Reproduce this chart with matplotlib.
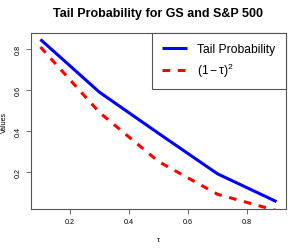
import matplotlib
matplotlib.use("Agg")
import matplotlib.pyplot as plt

tau = [0.1, 0.3, 0.5, 0.7, 0.9]
tail_prob = [0.847, 0.589, 0.388, 0.190, 0.054]
one_minus_tau_sq = [0.81, 0.49, 0.25, 0.09, 0.01]
xticks = [0.2, 0.4, 0.6, 0.8]
yticks = [0.2, 0.4, 0.6, 0.8]

plt.rcParams['font.family'] = ['Liberation Sans', 'DejaVu Sans']
plt.rcParams['mathtext.fontset'] = 'custom'
plt.rcParams['mathtext.rm'] = 'Liberation Sans'
plt.rcParams['mathtext.it'] = 'Liberation Sans'

fig = plt.figure(figsize=(3.01, 2.53), dpi=100)
ax = fig.add_axes([0.103, 0.170, 0.847, 0.696])

ax.plot(tau, tail_prob, color='#0000ff', lw=2.2, label='Tail Probability', solid_capstyle='butt')
ax.plot(tau, one_minus_tau_sq, color='#ff0000', lw=2.2, ls=(0, (2.5, 2.5)),
        label=r'$(1-\mathrm{\tau})^2$')

ax.set_xlim(0.068, 0.932)
ax.set_ylim(0.018, 0.879)
ax.set_xticks(xticks)
ax.set_xticklabels([f"{v:.1f}" for v in xticks])
ax.set_yticks(yticks)
ax.set_yticklabels([f"{v:.1f}" for v in yticks], rotation=90, va='center')
ax.tick_params(axis='both', labelsize=5.2, length=3.5, width=0.6, color='#555555', pad=3)
for s in ax.spines.values():
    s.set_color('#555555')
    s.set_linewidth(0.8)

ax.set_xlabel('τ', fontsize=5.5, labelpad=8)
ax.set_ylabel('Values', fontsize=5, labelpad=5)
fig.suptitle('Tail Probability for GS and S&P 500', fontsize=9, fontweight='bold', y=0.97, x=0.525)

leg = ax.legend(loc='upper right', bbox_to_anchor=(1.0, 1.0), borderaxespad=0,
                fontsize=8.7, fancybox=False, framealpha=1, edgecolor='#555555',
                handlelength=2.1, handletextpad=0.85, borderpad=0.85, labelspacing=0.45)
leg.get_frame().set_linewidth(0.8)

fig.savefig('out.png', dpi=100)
